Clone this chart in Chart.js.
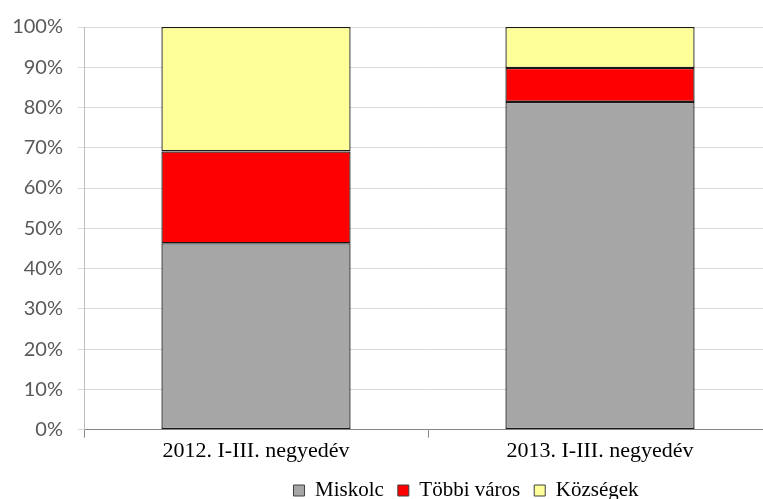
<!DOCTYPE html>
<html>
<head>
<meta charset="utf-8">
<script src="https://cdn.jsdelivr.net/npm/chart.js@4/dist/chart.umd.min.js"></script>
<style>
  html, body { margin: 0; padding: 0; background: #fff; overflow: hidden; }
  #wrap { width: 776px; height: 499px; }
</style>
</head>
<body>
<div id="wrap"><canvas id="chart"></canvas></div>
<script>
// categories and shares (%)
const categories = ["2012. I-III. negyedév", "2013. I-III. negyedév"];
const miskolc    = [46.3, 81.4];
const tobbiVaros = [22.8, 8.4];
const kozsegek   = [30.9, 10.2];
const yTicks     = [0, 10, 20, 30, 40, 50, 60, 70, 80, 90, 100];

// nudge the legend to where the original sits
const shiftLegend = {
  id: "shiftLegend",
  afterLayout(chart) {
    const lg = chart.legend;
    lg.left += 38; lg.right += 38;
    lg.top += 2;   lg.bottom += 2;
  }
};

new Chart(document.getElementById("chart"), {
  type: "bar",
  data: {
    labels: categories,
    datasets: [
      { label: "Miskolc",      data: miskolc,    backgroundColor: "#a6a6a6" },
      { label: "Többi város",  data: tobbiVaros, backgroundColor: "#ff0000" },
      { label: "Községek",     data: kozsegek,   backgroundColor: "#ffff99" }
    ].map(d => ({ ...d, borderColor: "#1a1a1a", borderWidth: 1.3, borderSkipped: false,
                  barPercentage: 0.55, categoryPercentage: 1 }))
  },
  options: {
    responsive: true,
    maintainAspectRatio: false,
    animation: false,
    layout: { padding: { top: 19, right: 4, left: 0, bottom: -10 } },
    plugins: {
      tooltip: { enabled: false },
      legend: {
        position: "bottom",
        fullSize: false,
        labels: {
          boxWidth: 11, boxHeight: 11, padding: 14,
          color: "#000",
          font: { family: "'Liberation Serif'", size: 21 },
          generateLabels: chart => chart.data.datasets.map((d, i) => ({
            text: d.label, fillStyle: d.backgroundColor, strokeStyle: "#404040",
            lineWidth: 1, datasetIndex: i, hidden: false
          }))
        }
      }
    },
    scales: {
      x: {
        stacked: true,
        grid: { offset: true, drawOnChartArea: false, color: "#868686", tickLength: 8 },
        border: { color: "#868686" },
        ticks: { color: "#000", padding: 0, maxRotation: 0,
                 font: { family: "'Liberation Serif'", size: 22 } }
      },
      y: {
        stacked: true,
        min: 0, max: 100,
        afterFit: s => { s.width = 84; },
        afterBuildTicks: s => { s.ticks = yTicks.map(v => ({ value: v })); },
        grid: { color: "#d9d9d9", tickLength: 6 },
        border: { color: "#bfbfbf" },
        ticks: { color: "#595959", padding: 15,
                 font: { family: "Lato", size: 20 },
                 callback: v => v + "%" }
      }
    }
  },
  plugins: [shiftLegend]
});
</script>
</body>
</html>
